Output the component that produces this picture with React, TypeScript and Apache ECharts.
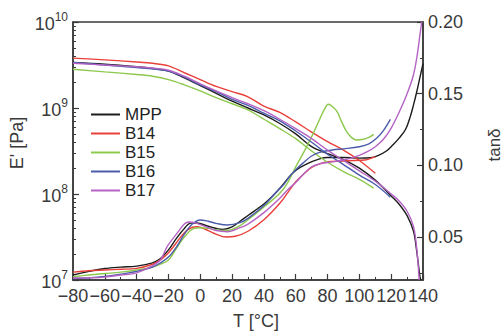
import React, { useEffect, useRef } from "react";
import * as echarts from "echarts";

const sampleNames = ["MPP", "B14", "B15", "B16", "B17"];
const sampleColors = ["#1c1c1c", "#e8403a", "#8cc84b", "#4b5cab", "#b463c4"];

const xTickLabels = ["−80", "−60", "−40", "−20", "0", "20", "40", "60", "80", "100", "120", "140"];
const tanTickLabels = [0.05, 0.1, 0.15, 0.2];
const tanMinorTicks = [0.025, 0.075, 0.125, 0.175];
const logMinorTicks = [
  2e7, 3e7, 4e7, 5e7, 6e7, 7e7, 8e7, 9e7,
  2e8, 3e8, 4e8, 5e8, 6e8, 7e8, 8e8, 9e8,
  2e9, 3e9, 4e9, 5e9, 6e9, 7e9, 8e9, 9e9,
];

// Storage modulus E' [Pa]
const mppET = [-80, -60, -40, -30, -20, -10, 0, 10, 20, 30, 40, 50, 60, 70, 80, 90, 100, 110, 120, 125, 130, 134, 136, 138, 138.6];
const mppE = [3.39e9, 3.24e9, 3.02e9, 2.88e9, 2.69e9, 2.24e9, 1.82e9, 1.48e9, 1.2e9, 1.0e9, 8.3e8, 6.6e8, 5.0e8, 3.55e8, 2.95e8, 2.51e8, 2.0e8, 1.45e8, 9.5e7, 7.6e7, 5.6e7, 3.7e7, 2.2e7, 1.12e7, 1.0e7];

const b14ET = [-80, -60, -40, -30, -20, -10, 0, 10, 20, 30, 40, 50, 60, 70, 80, 90, 100, 110];
const b14E = [3.8e9, 3.63e9, 3.43e9, 3.31e9, 3.09e9, 2.57e9, 2.14e9, 1.78e9, 1.55e9, 1.35e9, 1.05e9, 8.9e8, 6.9e8, 5.25e8, 4.07e8, 3.24e8, 2.45e8, 1.74e8];

const b15ET = [-80, -60, -40, -30, -20, -10, 0, 10, 20, 30, 40, 50, 60, 70, 80, 90, 100, 109];
const b15E = [2.82e9, 2.63e9, 2.45e9, 2.34e9, 2.14e9, 1.86e9, 1.58e9, 1.32e9, 1.12e9, 9.5e8, 7.4e8, 5.75e8, 4.4e8, 3.16e8, 2.34e8, 1.82e8, 1.48e8, 1.17e8];

const b16ET = [-80, -60, -40, -30, -20, -10, 0, 10, 20, 30, 40, 50, 60, 70, 80, 90, 100, 110, 119.5];
const b16E = [3.39e9, 3.16e9, 2.95e9, 2.85e9, 2.69e9, 2.29e9, 1.86e9, 1.55e9, 1.26e9, 1.07e9, 8.7e8, 7.1e8, 5.4e8, 4.0e8, 2.9e8, 2.2e8, 1.66e8, 1.29e8, 9.2e7];

const b17ET = [-80, -60, -40, -30, -20, -10, 0, 10, 20, 30, 40, 50, 60, 70, 80, 90, 100, 110, 120, 125, 130, 134, 136, 137.6];
const b17E = [3.31e9, 3.16e9, 3.02e9, 2.92e9, 2.75e9, 2.34e9, 1.91e9, 1.58e9, 1.32e9, 1.12e9, 9.3e8, 7.4e8, 5.75e8, 4.4e8, 3.24e8, 2.45e8, 1.86e8, 1.41e8, 1.0e8, 8.3e7, 6.3e7, 4.2e7, 2.4e7, 1.0e7];

// Loss factor tan δ
const mppTanT = [-80, -70, -60, -50, -40, -30, -25, -20, -15, -10, -6, -2, 5, 14, 20, 25, 30, 40, 45, 50, 56, 60, 67, 75, 80, 90, 100, 107, 112, 117, 121, 125, 129, 132, 134, 136, 138, 140];
const mppTan = [0.0235, 0.026, 0.028, 0.029, 0.0297, 0.032, 0.035, 0.041, 0.049, 0.056, 0.0597, 0.0598, 0.0575, 0.0553, 0.057, 0.061, 0.065, 0.073, 0.078, 0.084, 0.092, 0.0965, 0.101, 0.1045, 0.1055, 0.1055, 0.105, 0.1053, 0.107, 0.11, 0.1142, 0.119, 0.125, 0.134, 0.142, 0.151, 0.161, 0.171];

const b14TanT = [-80, -70, -60, -50, -40, -30, -25, -20, -15, -10, -5, -2, 5, 10, 16, 22, 30, 40, 50, 55, 60, 65, 70, 75, 80, 90, 100, 105, 110];
const b14Tan = [0.0255, 0.0265, 0.027, 0.0275, 0.0281, 0.031, 0.034, 0.039, 0.046, 0.053, 0.0568, 0.0572, 0.0545, 0.052, 0.05, 0.0505, 0.054, 0.062, 0.0735, 0.081, 0.0885, 0.094, 0.0985, 0.101, 0.1025, 0.103, 0.1035, 0.104, 0.106];

const b15TanT = [-80, -70, -60, -50, -40, -30, -25, -20, -15, -10, -4, 0, 5, 10, 17, 25, 30, 40, 50, 55, 60, 65, 70, 75, 78, 80.5, 83, 86, 89, 92, 95, 98, 102, 106, 109];
const b15Tan = [0.0223, 0.0235, 0.0245, 0.0255, 0.027, 0.029, 0.031, 0.034, 0.042, 0.05, 0.056, 0.0565, 0.056, 0.055, 0.0545, 0.058, 0.062, 0.071, 0.0805, 0.088, 0.099, 0.109, 0.12, 0.132, 0.139, 0.1426, 0.141, 0.1374, 0.13, 0.1235, 0.1195, 0.1177, 0.118, 0.1195, 0.1216];

const b16TanT = [-80, -70, -60, -50, -40, -30, -25, -20, -15, -10, -5, 0, 5, 10, 17, 25, 30, 40, 48, 52, 56, 60, 65, 70, 75, 83, 90, 100, 106, 111, 115, 119.5];
const b16Tan = [0.021, 0.0215, 0.0225, 0.024, 0.026, 0.029, 0.032, 0.036, 0.043, 0.052, 0.059, 0.0619, 0.061, 0.0595, 0.0584, 0.06, 0.063, 0.072, 0.0816, 0.086, 0.092, 0.097, 0.102, 0.1065, 0.109, 0.1107, 0.1115, 0.113, 0.115, 0.119, 0.124, 0.132];

const b17TanT = [-80, -70, -60, -50, -40, -30, -25, -21, -15, -10, -7, -3, 5, 10, 17, 25, 30, 40, 50, 55, 60, 65, 70, 75, 80, 90, 100, 105, 110, 115, 120, 125, 130, 134, 136.5, 138.2, 139.2];
const b17Tan = [0.0214, 0.0215, 0.022, 0.0235, 0.025, 0.03, 0.034, 0.043, 0.052, 0.059, 0.0605, 0.0598, 0.0565, 0.0545, 0.0537, 0.0565, 0.059, 0.067, 0.077, 0.083, 0.088, 0.094, 0.099, 0.101, 0.102, 0.1037, 0.107, 0.1095, 0.113, 0.118, 0.126, 0.137, 0.15, 0.163, 0.178, 0.192, 0.2];

const eSets = [
  [mppET, mppE],
  [b14ET, b14E],
  [b15ET, b15E],
  [b16ET, b16E],
  [b17ET, b17E],
];
const tanSets = [
  [mppTanT, mppTan],
  [b14TanT, b14Tan],
  [b15TanT, b15Tan],
  [b16TanT, b16Tan],
  [b17TanT, b17Tan],
];

const FONT = "'Liberation Sans', Arial, sans-serif";
const TXT = "#3a3a3a";
const AX = "#3a3a3a";

export default function App() {
  const ref = useRef<HTMLDivElement>(null);
  useEffect(() => {
    if (!ref.current) return;
    const chart = echarts.init(ref.current, undefined, { renderer: "svg" });
    const pair = (xs: number[], ys: number[]) => xs.map((x, i) => [x, ys[i]]);
    const series: any[] = [];
    sampleNames.forEach((name, i) => {
      series.push({
        name,
        type: "line",
        xAxisIndex: 0,
        yAxisIndex: 0,
        data: pair(eSets[i][0], eSets[i][1]),
        symbol: "none",
        smooth: 0.35,
        lineStyle: { color: sampleColors[i], width: 1.4 },
        itemStyle: { color: sampleColors[i] },
      });
      series.push({
        name,
        type: "line",
        xAxisIndex: 0,
        yAxisIndex: 1,
        data: pair(tanSets[i][0], tanSets[i][1]),
        symbol: "none",
        smooth: 0.35,
        lineStyle: { color: sampleColors[i], width: 1.4 },
        itemStyle: { color: sampleColors[i] },
      });
    });

    chart.setOption({
      animation: false,
      textStyle: { fontFamily: FONT },
      grid: {
        left: 73,
        right: 81,
        top: 22,
        bottom: 51,
        show: true,
        borderColor: AX,
        borderWidth: 1.5,
        backgroundColor: "transparent",
      },
      legend: {
        data: sampleNames.map((n, i) => ({ name: n, itemStyle: { color: sampleColors[i] } })),
        orient: "vertical",
        left: 86,
        top: 101,
        icon: "rect",
        itemWidth: 29,
        itemHeight: 2,
        itemGap: 2,
        textStyle: { fontSize: 17, lineHeight: 17, color: "#222", fontFamily: FONT },
      },
      xAxis: {
        type: "value",
        min: -80,
        max: 140,
        interval: 20,
        axisLine: { show: true, onZero: false, lineStyle: { color: AX, width: 1.5 } },
        axisTick: { show: true, inside: true, length: 6, lineStyle: { color: AX, width: 1.2 } },
        minorTick: { show: true, splitNumber: 2, length: 3, lineStyle: { color: AX, width: 1 } },
        splitLine: { show: false },
        minorSplitLine: { show: false },
        axisLabel: {
          margin: 7,
          fontSize: 18,
          color: TXT,
          fontFamily: FONT,
          formatter: (v: number) => xTickLabels[Math.round((v + 80) / 20)] ?? "",
        },
      },
      yAxis: [
        {
          type: "log",
          logBase: 10,
          min: 1e7,
          max: 1e10,
          splitNumber: 3,
          position: "left",
          axisLine: { show: true, onZero: false, lineStyle: { color: AX, width: 1.5 } },
          axisTick: { show: true, inside: true, length: 6, lineStyle: { color: AX, width: 1.2 } },
          splitLine: { show: false },
          axisLabel: {
            margin: 5,
            color: TXT,
            formatter: (v: number) => `{b|10}{s|${Math.round(Math.log10(v))}}`,
            rich: {
              b: { fontSize: 18, lineHeight: 22, verticalAlign: "bottom", color: TXT, fontFamily: FONT },
              s: { fontSize: 12, verticalAlign: "top", color: TXT, fontFamily: FONT },
            },
          },
        },
        {
          type: "value",
          min: 0.02,
          max: 0.2,
          position: "right",
          axisLine: { show: true, onZero: false, lineStyle: { color: AX, width: 1.5 } },
          axisTick: {
            show: true,
            inside: true,
            length: 6,
            customValues: tanTickLabels,
            lineStyle: { color: AX, width: 1.2 },
          },
          splitLine: { show: false },
          axisLabel: {
            margin: 5,
            fontSize: 18,
            color: TXT,
            fontFamily: FONT,
            customValues: tanTickLabels,
            formatter: (v: number) => v.toFixed(2),
          },
        },
        {
          type: "log",
          logBase: 10,
          min: 1e7,
          max: 1e10,
          position: "left",
          axisLine: { show: false, onZero: false },
          axisTick: {
            show: true,
            inside: true,
            length: 3,
            customValues: logMinorTicks,
            lineStyle: { color: AX, width: 1 },
          },
          axisLabel: { show: false },
          splitLine: { show: false },
        },
        {
          type: "value",
          min: 0.02,
          max: 0.2,
          position: "right",
          axisLine: { show: false, onZero: false },
          axisTick: {
            show: true,
            inside: true,
            length: 3,
            customValues: tanMinorTicks,
            lineStyle: { color: AX, width: 1 },
          },
          axisLabel: { show: false },
          splitLine: { show: false },
        },
      ],
      graphic: [
        {
          type: "text",
          x: 17,
          y: 143,
          rotation: Math.PI / 2,
          style: {
            text: "E' [Pa]",
            fontSize: 18,
            fontFamily: FONT,
            fill: TXT,
            align: "center",
            verticalAlign: "middle",
          },
        },
        {
          type: "text",
          x: 256,
          y: 321,
          style: {
            text: "T [°C]",
            fontSize: 18,
            fontFamily: FONT,
            fill: TXT,
            align: "center",
            verticalAlign: "middle",
          },
        },
        {
          type: "text",
          x: 494,
          y: 145,
          rotation: Math.PI / 2,
          style: {
            text: "tanδ",
            fontSize: 17,
            fontFamily: FONT,
            fill: TXT,
            align: "center",
            verticalAlign: "middle",
          },
        },
      ],
      series,
    });
    return () => chart.dispose();
  }, []);
  return (
    <div
      ref={ref}
      style={{ position: "fixed", left: 0, top: 0, width: 504, height: 331, background: "#fff" }}
    />
  );
}
